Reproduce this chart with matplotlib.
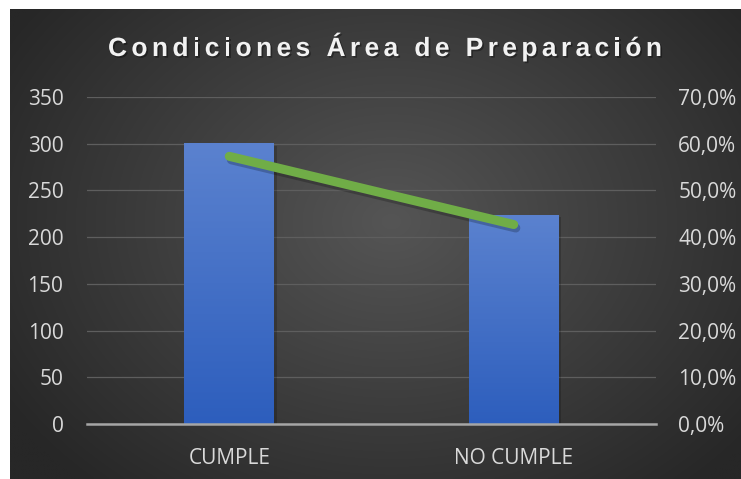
import numpy as np
import matplotlib
matplotlib.use("Agg")
import matplotlib.pyplot as plt
import matplotlib.patheffects as pe
from matplotlib.colors import LinearSegmentedColormap

categories = ["CUMPLE", "NO CUMPLE"]
counts = [301, 224]
percents = [0.573, 0.427]
left_ticks = [0, 50, 100, 150, 200, 250, 300, 350]
right_ticks = [0.0, 0.1, 0.2, 0.3, 0.4, 0.5, 0.6, 0.7]
title = "Condiciones Área de Preparación"

W, H = 741, 479
fig = plt.figure(figsize=(W / 100, H / 100), dpi=100)
fig.patch.set_facecolor("white")

# background panel with radial gradient
bx0, by0, bx1, by1 = 10, 9, 741, 479  # pixels from top-left
bg = fig.add_axes([bx0 / W, 1 - by1 / H, (bx1 - bx0) / W, (by1 - by0) / H])
bg.set_axis_off()
ny, nx = 200, 300
yy, xx = np.mgrid[0:ny, 0:nx]
cx, cy = nx * 0.52, ny * 0.45
r = np.sqrt(((xx - cx) / (nx * 0.62)) ** 2 + ((yy - cy) / (ny * 0.75)) ** 2)
r = np.clip(r, 0, 1)
c_center = np.array([0x55, 0x55, 0x55]) / 255
c_edge = np.array([0x27, 0x27, 0x27]) / 255
img = c_center[None, None, :] * (1 - r[..., None]) + c_edge[None, None, :] * r[..., None]
bg.imshow(img, aspect="auto", extent=[0, 1, 0, 1], interpolation="bilinear")
bg.set_xlim(0, 1)
bg.set_ylim(0, 1)

# main axes
ax_l, ax_r, ax_t, ax_b = 87, 656, 97, 424
ax = fig.add_axes([ax_l / W, 1 - ax_b / H, (ax_r - ax_l) / W, (ax_b - ax_t) / H])
ax.set_facecolor("none")
ax2 = ax.twinx()
ax2.set_facecolor("none")

x = np.arange(len(categories))
bars = ax.bar(x, counts, width=0.316, color="#4472c4", zorder=3,
              path_effects=[pe.SimplePatchShadow(offset=(2, -2), alpha=0.18, shadow_rgbFace="black"), pe.Normal()])
cmap = LinearSegmentedColormap.from_list("bar", ["#2d5ebd", "#5b82cf"])
grad = np.linspace(0, 1, 256).reshape(-1, 1)
for b in bars:
    bx, bw, bh = b.get_x(), b.get_width(), b.get_height()
    im = ax.imshow(grad, cmap=cmap, aspect="auto", origin="lower",
                   extent=[bx, bx + bw, 0, bh], zorder=4, interpolation="bilinear")
    im.set_clip_path(b)

ax.set_xlim(-0.5, len(categories) - 0.5)
ax.set_ylim(0, 350)
ax.set_yticks(left_ticks)
ax.set_yticklabels([str(t) for t in left_ticks])
ax.set_xticks(x)
ax.set_xticklabels(categories)
ax.grid(axis="y", color="#5e5e5e", linewidth=0.9, zorder=0)
ax.set_axisbelow(True)

ax2.plot(x, percents, color="#70ad47", linewidth=6.5, solid_capstyle="round", zorder=5,
         path_effects=[pe.SimpleLineShadow(offset=(1.5, -2.5), alpha=0.22, shadow_color="black"), pe.Normal()])
ax2.set_ylim(0, 0.7)
ax2.set_yticks(right_ticks)
ax2.set_yticklabels([f"{t*100:.1f}%".replace(".", ",") for t in right_ticks])

for a in (ax, ax2):
    for s in a.spines.values():
        s.set_visible(False)
    a.tick_params(length=0, colors="#d9d9d9", labelsize=15)
    for lab in a.get_xticklabels() + a.get_yticklabels():
        lab.set_fontfamily("Open Sans")
ax.spines["bottom"].set_visible(True)
ax.spines["bottom"].set_color("#a6a6a6")
ax.spines["bottom"].set_linewidth(1.8)
ax.spines["bottom"].set_zorder(6)
ax.tick_params(axis="y", pad=17)
ax.tick_params(axis="x", pad=17)
ax2.tick_params(axis="y", pad=16)

# title with letter spacing
fig.canvas.draw()
renderer = fig.canvas.get_renderer()
tprops = dict(fontfamily="Liberation Sans", fontweight="bold", fontsize=19, color="#f2f2f2")

def width_of(s):
    t = fig.text(0, 0, s, **tprops)
    w = t.get_window_extent(renderer).width
    t.remove()
    return w

space_w = width_of("a a") - width_of("aa")
widths = [space_w if ch == " " else width_of(ch) for ch in title]
target_left, target_right = 108, 662
spacing = (target_right - target_left - sum(widths)) / (len(title) - 1)
xpos = target_left
baseline = 56
for ch, w in zip(title, widths):
    if ch != " ":
        fig.text(xpos / W, 1 - baseline / H, ch, ha="left", va="baseline", **tprops,
                 path_effects=[pe.withSimplePatchShadow(offset=(1.2, -1.2), alpha=0.35, shadow_rgbFace="black")])
    xpos += w + spacing

fig.savefig("out.png", dpi=100, facecolor=fig.get_facecolor())
